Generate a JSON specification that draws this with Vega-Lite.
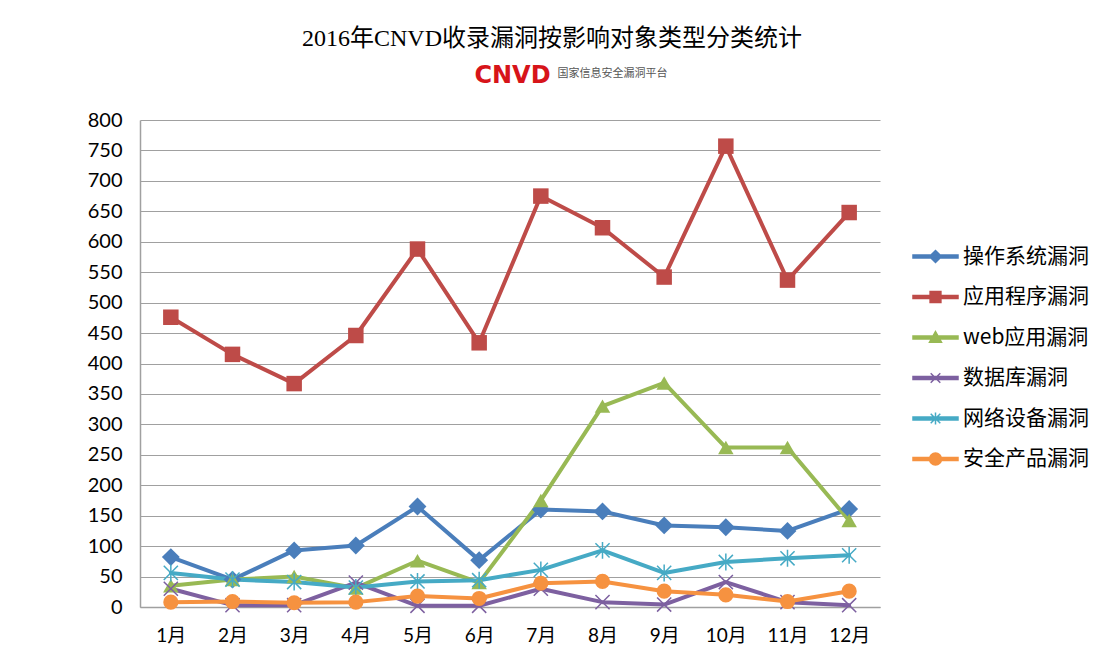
{
  "$schema": "https://vega.github.io/schema/vega-lite/v6.json",
  "autosize": "none",
  "width": 740,
  "height": 487,
  "padding": {"left": 140, "top": 120, "right": 227, "bottom": 46},
  "background": "white",
  "title": {
    "text": "2016年CNVD收录漏洞按影响对象类型分类统计",
    "anchor": "middle",
    "dx": 42,
    "offset": 12,
    "font": "Liberation Serif, Noto Sans CJK SC",
    "fontSize": 24,
    "fontWeight": "normal",
    "color": "#000000"
  },
  "data": {
    "values": [
      {"month": "1月", "series": "操作系统漏洞", "value": 82},
      {"month": "2月", "series": "操作系统漏洞", "value": 45},
      {"month": "3月", "series": "操作系统漏洞", "value": 93},
      {"month": "4月", "series": "操作系统漏洞", "value": 101},
      {"month": "5月", "series": "操作系统漏洞", "value": 165},
      {"month": "6月", "series": "操作系统漏洞", "value": 77},
      {"month": "7月", "series": "操作系统漏洞", "value": 160},
      {"month": "8月", "series": "操作系统漏洞", "value": 157},
      {"month": "9月", "series": "操作系统漏洞", "value": 134},
      {"month": "10月", "series": "操作系统漏洞", "value": 131},
      {"month": "11月", "series": "操作系统漏洞", "value": 125},
      {"month": "12月", "series": "操作系统漏洞", "value": 161},
      {"month": "1月", "series": "应用程序漏洞", "value": 476},
      {"month": "2月", "series": "应用程序漏洞", "value": 415},
      {"month": "3月", "series": "应用程序漏洞", "value": 367},
      {"month": "4月", "series": "应用程序漏洞", "value": 446},
      {"month": "5月", "series": "应用程序漏洞", "value": 588},
      {"month": "6月", "series": "应用程序漏洞", "value": 434},
      {"month": "7月", "series": "应用程序漏洞", "value": 675},
      {"month": "8月", "series": "应用程序漏洞", "value": 623},
      {"month": "9月", "series": "应用程序漏洞", "value": 542},
      {"month": "10月", "series": "应用程序漏洞", "value": 757},
      {"month": "11月", "series": "应用程序漏洞", "value": 537},
      {"month": "12月", "series": "应用程序漏洞", "value": 648},
      {"month": "1月", "series": "web应用漏洞", "value": 35},
      {"month": "2月", "series": "web应用漏洞", "value": 45},
      {"month": "3月", "series": "web应用漏洞", "value": 50},
      {"month": "4月", "series": "web应用漏洞", "value": 31},
      {"month": "5月", "series": "web应用漏洞", "value": 76},
      {"month": "6月", "series": "web应用漏洞", "value": 40},
      {"month": "7月", "series": "web应用漏洞", "value": 175},
      {"month": "8月", "series": "web应用漏洞", "value": 330},
      {"month": "9月", "series": "web应用漏洞", "value": 368},
      {"month": "10月", "series": "web应用漏洞", "value": 262},
      {"month": "11月", "series": "web应用漏洞", "value": 262},
      {"month": "12月", "series": "web应用漏洞", "value": 142},
      {"month": "1月", "series": "数据库漏洞", "value": 30},
      {"month": "2月", "series": "数据库漏洞", "value": 3},
      {"month": "3月", "series": "数据库漏洞", "value": 3},
      {"month": "4月", "series": "数据库漏洞", "value": 40},
      {"month": "5月", "series": "数据库漏洞", "value": 2},
      {"month": "6月", "series": "数据库漏洞", "value": 2},
      {"month": "7月", "series": "数据库漏洞", "value": 30},
      {"month": "8月", "series": "数据库漏洞", "value": 8},
      {"month": "9月", "series": "数据库漏洞", "value": 4},
      {"month": "10月", "series": "数据库漏洞", "value": 41},
      {"month": "11月", "series": "数据库漏洞", "value": 8},
      {"month": "12月", "series": "数据库漏洞", "value": 3},
      {"month": "1月", "series": "网络设备漏洞", "value": 56},
      {"month": "2月", "series": "网络设备漏洞", "value": 45},
      {"month": "3月", "series": "网络设备漏洞", "value": 41},
      {"month": "4月", "series": "网络设备漏洞", "value": 32},
      {"month": "5月", "series": "网络设备漏洞", "value": 42},
      {"month": "6月", "series": "网络设备漏洞", "value": 44},
      {"month": "7月", "series": "网络设备漏洞", "value": 61},
      {"month": "8月", "series": "网络设备漏洞", "value": 93},
      {"month": "9月", "series": "网络设备漏洞", "value": 56},
      {"month": "10月", "series": "网络设备漏洞", "value": 74},
      {"month": "11月", "series": "网络设备漏洞", "value": 80},
      {"month": "12月", "series": "网络设备漏洞", "value": 85},
      {"month": "1月", "series": "安全产品漏洞", "value": 8},
      {"month": "2月", "series": "安全产品漏洞", "value": 9},
      {"month": "3月", "series": "安全产品漏洞", "value": 7},
      {"month": "4月", "series": "安全产品漏洞", "value": 8},
      {"month": "5月", "series": "安全产品漏洞", "value": 18},
      {"month": "6月", "series": "安全产品漏洞", "value": 14},
      {"month": "7月", "series": "安全产品漏洞", "value": 39},
      {"month": "8月", "series": "安全产品漏洞", "value": 42},
      {"month": "9月", "series": "安全产品漏洞", "value": 26},
      {"month": "10月", "series": "安全产品漏洞", "value": 20},
      {"month": "11月", "series": "安全产品漏洞", "value": 9},
      {"month": "12月", "series": "安全产品漏洞", "value": 26}
    ]
  },
  "encoding": {
    "y": {
      "field": "value",
      "type": "quantitative",
      "scale": {"domain": [0, 800], "nice": false, "zero": true},
      "axis": {
        "title": null,
        "values": [0,50,100,150,200,250,300,350,400,450,500,550,600,650,700,750,800],
        "labelFont": "Lato",
        "labelFontSize": 20,
        "labelColor": "#000000",
        "labelPadding": 18,
        "ticks": false,
        "tickSize": 0,
        "domainColor": "#A0A0A0",
        "domainWidth": 1.5,
        "grid": true,
        "gridColor": "#A0A0A0",
        "gridWidth": 1.2
      }
    },
    "color": {
      "field": "series",
      "type": "nominal",
      "scale": {
        "domain": ["操作系统漏洞","应用程序漏洞","web应用漏洞","数据库漏洞","网络设备漏洞","安全产品漏洞"],
        "range": ["#4A7EBB","#BE4B48","#98B954","#7D60A0","#46AAC5","#F69240"]
      },
      "legend": {
        "orient": "none",
        "legendX": 785,
        "legendY": 126,
        "title": null,
        "symbolType": "M-3.75,-0.25H3.75V0.25H-3.75Z",
        "symbolSize": 144,
        "labelOffset": 17,
        "labelFont": "Noto Sans CJK SC",
        "labelFontSize": 21,
        "labelColor": "#000000",
        "rowPadding": 18.5,
        "labelLimit": 300,
        "encode": {
          "symbols": {
            "update": {
              "shape": {"signal": "datum.value === '操作系统漏洞' ? 'M-3.75,-0.25H3.75V0.25H-3.75Z M0,-1L1,0L0,1L-1,0Z' : datum.value === '应用程序漏洞' ? 'M-3.75,-0.25H3.75V0.25H-3.75Z M-0.9,-0.9H0.9V0.9H-0.9Z' : datum.value === 'web应用漏洞' ? 'M-3.75,-0.25H3.75V0.25H-3.75Z M0,-1L1,0.8H-1Z' : datum.value === '数据库漏洞' ? 'M-3.75,-0.25H3.75V0.25H-3.75Z M-0.8,-0.8L0.8,0.8M-0.8,0.8L0.8,-0.8' : datum.value === '网络设备漏洞' ? 'M-3.75,-0.25H3.75V0.25H-3.75Z M-0.8,-0.8L0.8,0.8M-0.8,0.8L0.8,-0.8M0,-1V1' : 'M-3.75,-0.25H3.75V0.25H-3.75Z M1,0A1,1,0,1,1,-1,0A1,1,0,1,1,1,0Z'"},
              "fill": {"signal": "scale('color', datum.value)"},
              "stroke": {"signal": "scale('color', datum.value)"},
              "strokeWidth": {"value": 1.5},
              "opacity": {"value": 1},
              "fillOpacity": {"value": 1},
              "strokeOpacity": {"value": 1}
            }
          }
        }
      }
    }
  },
  "layer": [
    {
      "mark": {"type": "line", "strokeWidth": 4, "strokeJoin": "round", "strokeCap": "round"},
      "encoding": {
        "x": {
          "field": "month",
          "type": "ordinal",
          "scale": {"type": "point", "padding": 0.5, "domain": ["1月","2月","3月","4月","5月","6月","7月","8月","9月","10月","11月","12月"]},
          "axis": {
            "title": null,
            "labelAngle": 0,
            "labelFont": "Lato, Noto Sans CJK SC",
            "labelFontSize": 19,
            "labelColor": "#000000",
            "labelPadding": 19,
            "ticks": false,
            "tickSize": 0,
            "domainColor": "#A0A0A0",
            "domainWidth": 1.5,
            "grid": false
          }
        }
      }
    },
    {
      "transform": [{"filter": {"field": "series", "equal": "操作系统漏洞"}}],
      "mark": {"type": "point", "shape": "diamond", "filled": true, "opacity": 1, "size": 320},
      "encoding": {
        "x": {
          "field": "month",
          "type": "ordinal",
          "scale": {"type": "point", "padding": 0.5, "domain": ["1月","2月","3月","4月","5月","6月","7月","8月","9月","10月","11月","12月"]},
          "axis": {
            "orient": "top",
            "offset": 0,
            "labels": false,
            "ticks": false,
            "domain": false,
            "grid": false,
            "title": "CNVD",
            "titleFont": "DejaVu Sans",
            "titleFontSize": 24,
            "titleFontWeight": "bold",
            "titleColor": "#D7141A",
            "titleAlign": "center",
            "titleBaseline": "alphabetic",
            "titleX": 372,
            "titleY": -38
          }
        }
      }
    },
    {
      "transform": [{"filter": {"field": "series", "equal": "应用程序漏洞"}}],
      "mark": {"type": "point", "shape": "square", "filled": true, "opacity": 1, "size": 240},
      "encoding": {
        "x": {
          "field": "month",
          "type": "ordinal",
          "scale": {"type": "point", "padding": 0.5, "domain": ["1月","2月","3月","4月","5月","6月","7月","8月","9月","10月","11月","12月"]},
          "axis": {
            "orient": "top",
            "offset": 0,
            "labels": false,
            "ticks": false,
            "domain": false,
            "grid": false,
            "title": "国家信息安全漏洞平台",
            "titleFont": "Noto Sans CJK SC",
            "titleFontSize": 11,
            "titleFontWeight": "normal",
            "titleColor": "#555555",
            "titleAlign": "left",
            "titleBaseline": "alphabetic",
            "titleX": 417,
            "titleY": -44
          }
        }
      }
    },
    {
      "transform": [{"filter": {"field": "series", "equal": "web应用漏洞"}}],
      "mark": {"type": "point", "shape": "triangle-up", "filled": true, "opacity": 1, "size": 240},
      "encoding": {
        "x": {
          "field": "month",
          "type": "ordinal",
          "scale": {"type": "point", "padding": 0.5, "domain": ["1月","2月","3月","4月","5月","6月","7月","8月","9月","10月","11月","12月"]},
          "axis": null
        }
      }
    },
    {
      "transform": [{"filter": {"field": "series", "equal": "数据库漏洞"}}],
      "mark": {"type": "point", "shape": "M-1,-1L1,1M-1,1L1,-1", "filled": false, "opacity": 1, "size": 200, "strokeWidth": 1.5},
      "encoding": {
        "x": {
          "field": "month",
          "type": "ordinal",
          "scale": {"type": "point", "padding": 0.5, "domain": ["1月","2月","3月","4月","5月","6月","7月","8月","9月","10月","11月","12月"]},
          "axis": null
        }
      }
    },
    {
      "transform": [{"filter": {"field": "series", "equal": "网络设备漏洞"}}],
      "mark": {"type": "point", "shape": "M-1,-1L1,1M-1,1L1,-1M0,-1.2V1.2", "filled": false, "opacity": 1, "size": 200, "strokeWidth": 1.5},
      "encoding": {
        "x": {
          "field": "month",
          "type": "ordinal",
          "scale": {"type": "point", "padding": 0.5, "domain": ["1月","2月","3月","4月","5月","6月","7月","8月","9月","10月","11月","12月"]},
          "axis": null
        }
      }
    },
    {
      "transform": [{"filter": {"field": "series", "equal": "安全产品漏洞"}}],
      "mark": {"type": "point", "shape": "circle", "filled": true, "opacity": 1, "size": 230},
      "encoding": {
        "x": {
          "field": "month",
          "type": "ordinal",
          "scale": {"type": "point", "padding": 0.5, "domain": ["1月","2月","3月","4月","5月","6月","7月","8月","9月","10月","11月","12月"]},
          "axis": null
        }
      }
    }
  ],
  "resolve": {"axis": {"x": "independent"}},
  "config": {
    "view": {"stroke": null}
  }
}
